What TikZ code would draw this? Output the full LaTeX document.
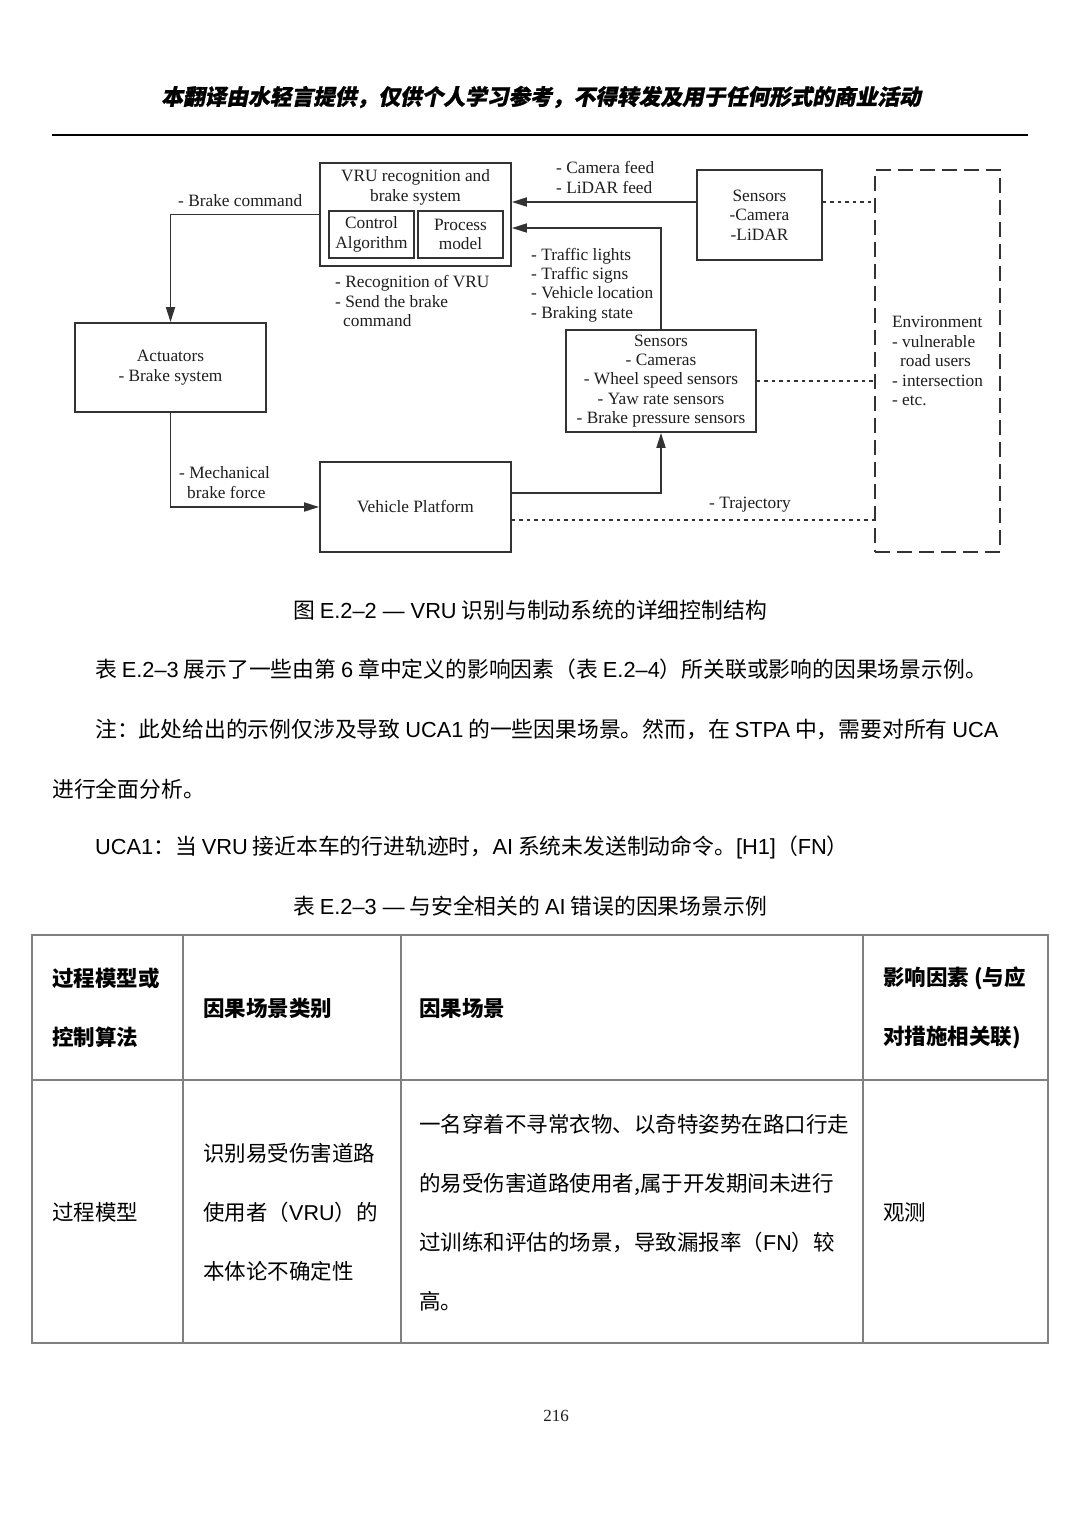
\documentclass[tikz,border=0pt]{standalone}
\usepackage{fontspec}
\usepackage{xcolor}
\usepackage{tikz}
\usetikzlibrary{arrows.meta,positioning,calc}
\setmainfont{Liberation Serif}
\newfontfamily\cjk{Noto Sans CJK SC}
\newfontfamily\cjkslant[FakeSlant=0.2,BoldFeatures={FakeBold=1.2}]{Noto Sans CJK SC}
\newfontfamily\arial{Liberation Sans}
\newcommand{\latn}[1]{{\arial #1}}
\newcommand{\diagfont}{\fontsize{17.3pt}{19.4pt}\selectfont}
\newcommand{\bodyfont}{\cjk\fontsize{21.8pt}{25pt}\selectfont}
\newcommand{\cellfont}{\cjk\fontsize{21.5pt}{59pt}\selectfont}
\definecolor{ink}{HTML}{1E1E1E}
\definecolor{line}{HTML}{333333}
\definecolor{rule}{HTML}{808080}
\tikzset{
  box/.style={draw=line, line width=1.8pt, inner sep=0pt, align=center, text=ink, font=\diagfont},
  env/.style={draw=line, line width=1.7pt, dash pattern=on 15pt off 7pt, inner sep=0pt, align=left, text=ink, font=\diagfont},
  arr/.style={draw=line, line width=1.8pt, -{Triangle[length=15pt,width=9pt]}},
  dots/.style={draw=line, line width=1.4pt, dash pattern=on 3.5pt off 4pt},
  lab/.style={anchor=west, inner sep=0pt, align=left, text=ink, font=\diagfont},
  txt/.style={inner sep=0pt, align=center, text=ink, font=\diagfont},
  para/.style={anchor=west, inner sep=0pt, text=black, font=\bodyfont},
  captxt/.style={inner sep=0pt, text=black, font=\bodyfont},
  tab/.style={draw=rule, line width=1.5pt},
  cell/.style={anchor=west, inner sep=0pt, align=left, text=black, font=\cellfont},
  cellh/.style={cell, font=\cellfont\bfseries},
}

\begin{document}
\begin{tikzpicture}[x=1pt,y=-1pt]
  \useasboundingbox[fill=white] (0,0) rectangle (1080,1527);

  % page head
  \node[inner sep=0pt] (head) at (541,97) {\cjkslant\bfseries\fontsize{21.7pt}{24pt}\selectfont 本翻译由水轻言提供，仅供个人学习参考，不得转发及用于任何形式的商业活动};
  \draw[line width=2pt] (52,135) -- (1028,135);

  % control structure
  \node[box, minimum width=191pt, minimum height=103pt] (vru) at (415.5,214.5) {};
  \node[txt] (vrut) at (415.5,187.5) {VRU recognition and\\brake system};
  \node[box, minimum width=85pt, minimum height=47pt] (ctrl) at (371.5,234.5) {Control\\Algorithm};
  \node[box, minimum width=85pt, minimum height=47pt] (proc) at (460.5,234.5) {Process\\model};
  \node[box, minimum width=191pt, minimum height=89pt] (act) at (170.5,367.5) {Actuators\\- Brake system};
  \node[box, minimum width=191pt, minimum height=90pt] (vp) at (415.5,507) {Vehicle Platform};
  \node[box, minimum width=190pt, minimum height=102pt] (sen2) at (661,381) {Sensors\\- Cameras\\- Wheel speed sensors\\- Yaw rate sensors\\- Brake pressure sensors};
  \node[box, minimum width=125pt, minimum height=90pt] (sen1) at (759.5,215) {Sensors\\-Camera\\-LiDAR};
  \node[env, minimum width=125pt, minimum height=382pt] (envb) at (937.5,361) {Environment\\- vulnerable\\\hspace*{8pt}road users\\- intersection\\- etc.};

  % control and feedback paths
  \draw[arr] (vru.west) -| (act.north);
  \draw[arr] (act.south) |- (vp.west);
  \draw[arr] ([yshift=14pt]vp.east) -| (sen2.south);
  \draw[arr] (sen2.north) |- ([yshift=-13.5pt]vru.east);
  \draw[arr] ([yshift=13pt]sen1.west) -- ([yshift=13pt]sen1.west -| vru.east);
  \draw[dots] ([yshift=13pt]sen1.east) -- ([yshift=13pt]sen1.east -| envb.west);
  \draw[dots] (sen2.east) -- (sen2.east -| envb.west);
  \draw[dots] ([yshift=-13pt]vp.east) -- ([yshift=-13pt]vp.east -| envb.west);

  \node[lab] (cmd) at (178,200.5) {- Brake command};
  \node[lab] (feed) at (556,177.5) {- Camera feed\\- LiDAR feed};
  \node[lab] (info) at (531,285) {- Traffic lights\\- Traffic signs\\- Vehicle location\\- Braking state};
  \node[lab] (rec) at (335,301) {- Recognition of VRU\\- Send the brake\\\hspace*{8pt}command};
  \node[lab] (mech) at (179,482.5) {- Mechanical\\\hspace*{8pt}brake force};
  \node[lab] (traj) at (709,505) {- Trajectory};

  % captions and text
  \node[captxt] (figcap) at (530,610) {图 \latn{E.2–2 — VRU} 识别与制动系统的详细控制结构};
  \node[para] (p1) at (95,669) {表 \latn{E.2–3} 展示了一些由第 \latn{6} 章中定义的影响因素（表 \latn{E.2–4}）所关联或影响的因果场景示例。};
  \node[para] (p2) at (95,729) {注：此处给出的示例仅涉及导致 \latn{UCA1} 的一些因果场景。然而，在 \latn{STPA} 中，需要对所有 \latn{UCA}};
  \node[para] (p3) at (52,789) {进行全面分析。};
  \node[para] (p4) at (95,847) {\latn{UCA1}：当 \latn{VRU} 接近本车的行进轨迹时，\latn{AI} 系统未发送制动命令。\latn{[H1]}（\latn{FN}）};
  \node[captxt] (tabcap) at (530,906) {表 \latn{E.2–3 —} 与安全相关的 \latn{AI} 错误的因果场景示例};

  % table
  \draw[tab] (32,935) rectangle (1048,1343);
  \draw[tab] (32,1080) -- (1048,1080);
  \foreach \x in {183,401,863}
    \draw[tab] (\x,935) -- (\x,1343);

  \node[cellh] (h1) at (52,1008) {过程模型或\\控制算法};
  \node[cellh] (h2) at (203,1008) {因果场景类别};
  \node[cellh] (h3) at (419,1008) {因果场景};
  \node[cellh] (h4) at (883,1008) {影响因素 (与应\\对措施相关联)};
  \node[cell] (c1) at (52,1212) {过程模型};
  \node[cell] (c2) at (203,1212) {识别易受伤害道路\\使用者（\latn{VRU}）的\\本体论不确定性};
  \node[cell] (c3) at (419,1213) {一名穿着不寻常衣物、以奇特姿势在路口行走\\的易受伤害道路使用者,属于开发期间未进行\\过训练和评估的场景，导致漏报率（\latn{FN}）较\\高。};
  \node[cell] (c4) at (883,1212) {观测};

  \node[inner sep=0pt, text=ink] (page) at (556,1416) {\fontsize{17pt}{20pt}\selectfont 216};
\end{tikzpicture}
\end{document}
